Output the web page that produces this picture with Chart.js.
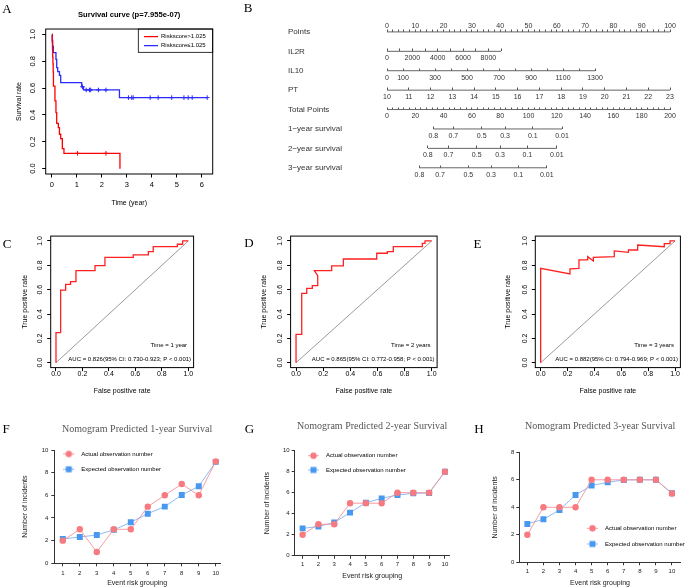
<!DOCTYPE html>
<html><head><meta charset="utf-8">
<script src="https://cdn.jsdelivr.net/npm/chart.js@4.4.1/dist/chart.umd.min.js"></script>
<style>
html,body{margin:0;padding:0;background:#fff;}
#wrap{position:relative;width:685px;height:588px;overflow:hidden;background:#fff;}
canvas{position:absolute;}
.lt{position:absolute;font-family:'Liberation Serif','Times New Roman',serif;font-size:13px;line-height:13px;color:#000;transform:translate(-50%,-50%);z-index:5;}
</style></head><body><div id="wrap"></div>
<script>
// ---------------- DATA ----------------
const seq = (a, b, s) => { const r = []; for (let v = a; v <= b + 1e-9; v += s) r.push(Math.round(v * 1000) / 1000); return r; };

// Panel A: Kaplan-Meier
const KM_TITLE = 'Survival curve (p=7.955e-07)';
const KM_GROUPS = ['Riskscore>1.025', 'Riskscore\u22641.025'];
const KM_COLORS = ['#ff0000', '#2a2aff'];
const RED_T = [0, 0.01, 0.02, 0.03, 0.04, 0.05, 0.06, 0.12, 0.16, 0.19, 0.255, 0.3, 0.35, 0.415, 0.48, 2.72];
const RED_S = [1, 0.94, 0.89, 0.83, 0.78, 0.72, 0.615, 0.504, 0.417, 0.337, 0.305, 0.256, 0.223, 0.149, 0.114, 0];
const RED_CENSOR_T = [1.02, 2.16];
const BLUE_T = [0, 0.015, 0.03, 0.055, 0.16, 0.19, 0.23, 0.3, 0.35, 1.19, 1.26, 2.7, 6.21];
const BLUE_S = [1, 0.955, 0.91, 0.864, 0.814, 0.752, 0.722, 0.695, 0.64, 0.61, 0.586, 0.529, 0.529];
const BLUE_CENSOR_T = [1.22, 1.37, 1.5, 1.55, 1.86, 2.16, 3.06, 3.19, 3.25, 3.93, 4.25, 4.79, 5.28, 5.45, 5.61, 6.21];
const KM_XTICKS = [0, 1, 2, 3, 4, 5, 6];
const PROB_TICKS = [0, 0.2, 0.4, 0.6, 0.8, 1];

// Panel B: nomogram
const NOMO_ROWS = ['Points', 'IL2R', 'IL10', 'PT', 'Total Points', '1\u2212year survival', '2\u2212year survival', '3\u2212year survival'];
const POINT_TICKS = seq(0, 100, 2);
const POINT_LABELS = seq(0, 100, 10);
const IL2R_TICKS = seq(0, 9000, 1000);
const IL2R_LABELS = [0, 2000, 4000, 6000, 8000];
const IL2R_POINTS_AT_MAX = 40.3;
const IL10_TICKS = seq(0, 1300, 100);
const IL10_LABELS = [0, 100, 300, 500, 700, 900, 1100, 1300];
const IL10_POINTS_AT_MAX = 73.5;
const PT_TICKS = seq(10, 23, 1);
const TOTAL_TICKS = seq(0, 200, 4);
const TOTAL_LABELS = seq(0, 200, 20);
const SURV_LABELS = ['0.8', '0.7', '0.5', '0.3', '0.1', '0.01'];
const SURV1_TOTAL = [32.7, 46.9, 66.9, 83.4, 103.0, 123.7];
const SURV2_TOTAL = [28.8, 43.4, 63.4, 79.9, 99.2, 120.0];
const SURV3_TOTAL = [22.9, 37.5, 57.5, 73.5, 92.8, 112.9];

// Panels C, D, E: time-dependent ROC
const C_FPR = [0, 0, 0.035, 0.035, 0.073, 0.073, 0.11, 0.11, 0.151, 0.151, 0.295, 0.295, 0.37, 0.37, 0.584, 0.584, 0.698, 0.698, 0.735, 0.735, 0.917, 0.917, 0.957, 0.957, 1];
const C_TPR = [0, 0.247, 0.247, 0.597, 0.597, 0.644, 0.644, 0.666, 0.666, 0.756, 0.756, 0.797, 0.797, 0.866, 0.866, 0.885, 0.885, 0.912, 0.912, 0.953, 0.953, 0.973, 0.973, 1, 1];
const D_FPR = [0, 0, 0.042, 0.042, 0.079, 0.079, 0.12, 0.12, 0.16, 0.16, 0.135, 0.263, 0.263, 0.349, 0.349, 0.595, 0.595, 0.673, 0.673, 0.717, 0.717, 0.931, 0.931, 0.951, 0.951, 1];
const D_TPR = [0, 0.233, 0.233, 0.57, 0.57, 0.611, 0.611, 0.633, 0.633, 0.715, 0.756, 0.756, 0.795, 0.795, 0.852, 0.852, 0.899, 0.899, 0.912, 0.912, 0.953, 0.953, 0.981, 0.981, 1, 1];
const E_FPR = [0, 0, 0.218, 0.218, 0.285, 0.285, 0.35, 0.35, 0.392, 0.392, 0.548, 0.548, 0.653, 0.653, 0.722, 0.722, 0.92, 0.92, 0.963, 0.963, 1];
const E_TPR = [0, 0.775, 0.729, 0.77, 0.775, 0.844, 0.844, 0.871, 0.836, 0.866, 0.871, 0.918, 0.907, 0.926, 0.926, 0.967, 0.953, 0.978, 0.978, 1, 1];
const DIAG = [0, 1];
const ROC_TIME = ['Time = 1 year', 'Time = 2 years', 'Time = 3 years'];
const ROC_AUC = ['AUC = 0.826(95% CI: 0.730-0.923; P < 0.001)', 'AUC = 0.865(95% CI: 0.772-0.958; P < 0.001)', 'AUC = 0.882(95% CI: 0.794-0.969; P < 0.001)'];

// Panels F, G, H: calibration
const CAL_TITLES = ['Nomogram Predicted 1-year Survival', 'Nomogram Predicted 2-year Survival', 'Nomogram Predicted 3-year Survival'];
const CAL_LEGEND = ['Actual observation number', 'Expected observation number'];
const RISK_GROUPS = [1, 2, 3, 4, 5, 6, 7, 8, 9, 10];
const F_ACTUAL = [2, 3, 1, 3, 3, 5, 6, 7, 6, 9];
const F_EXPECTED = [2.14, 2.32, 2.5, 2.95, 3.62, 4.38, 5.0, 6.03, 6.8, 8.95];
const G_ACTUAL = [2, 3, 3, 5, 5, 5, 6, 6, 6, 8];
const G_EXPECTED = [2.6, 2.78, 3.17, 4.1, 5.05, 5.46, 5.78, 5.94, 5.97, 8.0];
const H_ACTUAL = [2, 4, 4, 4, 6, 6, 6, 6, 6, 5];
const H_EXPECTED = [2.79, 3.13, 3.8, 4.9, 5.58, 5.82, 5.99, 6.0, 6.0, 5.02];
const FG_YTICKS = [0, 2, 4, 6, 8, 10];
const H_YTICKS = [0, 2, 4, 6, 8];

// ---------------- SETUP ----------------
Chart.defaults.font.family = "'Liberation Sans', Arial, Helvetica, sans-serif";
Chart.defaults.color = '#000';
Chart.defaults.animation = false;
Chart.defaults.responsive = false;
Chart.defaults.events = [];
Chart.defaults.plugins.legend.display = false;
Chart.defaults.plugins.tooltip.enabled = false;

const wrap = document.getElementById('wrap');
function makeCanvas(x, y, w, h) {
  const c = document.createElement('canvas');
  c.width = w; c.height = h;
  c.style.left = x + 'px'; c.style.top = y + 'px';
  c.style.width = w + 'px'; c.style.height = h + 'px';
  wrap.appendChild(c);
  return c;
}
function letter(t, x, y) {
  const d = document.createElement('div');
  d.className = 'lt'; d.textContent = t;
  d.style.left = x + 'px'; d.style.top = y + 'px';
  wrap.appendChild(d);
}
function kmAt(T, S, t) { let s = S[0]; for (let i = 0; i < T.length; i++) if (T[i] <= t) s = S[i]; return s; }
const setTicks = arr => s => { s.ticks = arr.map(v => ({ value: v })); };

// plugins
const framePlugin = {
  id: 'frame',
  afterDatasetsDraw(chart, args, opts) {
    if (!opts || !opts.on) return;
    const { ctx, chartArea: a } = chart;
    ctx.save(); ctx.strokeStyle = '#000'; ctx.lineWidth = 1;
    ctx.strokeRect(a.left, a.top, a.right - a.left, a.bottom - a.top);
    ctx.restore();
  }
};
const rocTextPlugin = {
  id: 'rocText',
  afterDatasetsDraw(chart, args, opts) {
    const { ctx, chartArea: a, scales } = chart;
    ctx.save();
    ctx.fillStyle = '#000';
    ctx.font = "6px 'Liberation Sans', Arial, sans-serif";
    ctx.textAlign = 'right'; ctx.textBaseline = 'middle';
    ctx.fillText(opts.time, a.right - 6.5, scales.y.getPixelForValue(0.14));
    ctx.fillText(opts.auc, a.right - 2.5, scales.y.getPixelForValue(0.028));
    ctx.restore();
  }
};
const legendPlacePlugin = {
  id: 'legendPlace',
  afterLayout(chart, args, opts) {
    const lg = chart.legend;
    if (!lg || !opts || opts.dx === undefined) return;
    const ca = chart.chartArea;
    const lo = lg.options.labels;
    const pad = lo.padding, fs = lo.font.size;
    const x0 = (opts.fromRight ? ca.right : ca.left) + opts.dx;
    const y0 = ca.top + opts.dy;
    lg.left = x0 - pad; lg.top = y0 - fs / 2 - pad;
    lg.right = lg.left + lg.width; lg.bottom = lg.top + lg.height;
  }
};
const legendBorderPlugin = {
  id: 'legendBorder',
  afterDraw(chart, args, opts) {
    if (!opts || opts.left === undefined) return;
    const ca = chart.chartArea, ctx = chart.ctx;
    ctx.save(); ctx.strokeStyle = '#000'; ctx.lineWidth = 0.8;
    const l = ca.right + opts.left;
    ctx.strokeRect(l, ca.top, ca.right - l, opts.bottom);
    ctx.restore();
  }
};

function rX(o) {
  return {
    type: 'linear', position: 'bottom', min: o.min, max: o.max,
    afterBuildTicks: setTicks(o.ticks),
    afterFit: s => { s.height = o.height; },
    ticks: { autoSkip: false, maxRotation: 0, minRotation: 0, padding: o.pad, font: { size: o.fs }, color: '#000', callback: o.fmt },
    grid: { drawOnChartArea: false, drawTicks: true, tickLength: 3.5, color: '#000' },
    border: { display: false },
    title: { display: true, text: o.title, font: { size: 7 }, color: '#000', padding: { top: 0, bottom: o.tpad } }
  };
}
function rY(o) {
  return {
    type: 'linear', position: 'left', min: o.min, max: o.max,
    afterBuildTicks: setTicks(o.ticks),
    afterFit: s => { s.width = o.width; },
    ticks: { autoSkip: false, minRotation: 90, maxRotation: 90, crossAlign: 'center', padding: o.pad, font: { size: o.fs }, color: '#000', callback: v => v.toFixed(1) },
    grid: { drawOnChartArea: false, drawTicks: true, tickLength: 3.5, color: '#000' },
    border: { display: false },
    title: { display: true, text: o.title, font: { size: 7 }, color: '#000', padding: { top: o.tpad, bottom: 0 } }
  };
}

// ---------------- PANEL A ----------------
new Chart(makeCanvas(0, 0, 230, 210), {
  type: 'scatter',
  data: { datasets: [
    { data: RED_T.map((t, i) => ({ x: t, y: RED_S[i] })), showLine: true, stepped: true, borderColor: KM_COLORS[0], borderWidth: 1.3, pointRadius: 0 },
    { data: BLUE_T.map((t, i) => ({ x: t, y: BLUE_S[i] })), showLine: true, stepped: true, borderColor: KM_COLORS[1], borderWidth: 1.3, pointRadius: 0 },
    { data: RED_CENSOR_T.map(t => ({ x: t, y: kmAt(RED_T, RED_S, t) })), showLine: false, pointStyle: 'cross', pointRadius: 2.3, borderColor: KM_COLORS[0], pointBorderWidth: 1 },
    { data: BLUE_CENSOR_T.map(t => ({ x: t, y: kmAt(BLUE_T, BLUE_S, t) })), showLine: false, pointStyle: 'cross', pointRadius: 2.3, borderColor: KM_COLORS[1], pointBorderWidth: 1 }
  ] },
  options: {
    layout: { padding: { left: 0, right: 17.3, top: 0, bottom: 0 } },
    scales: {
      x: rX({ min: -0.25, max: 6.43, ticks: KM_XTICKS, height: 36, pad: 3, fs: 7.5, title: 'Time (year)', tpad: 2.8, fmt: v => String(v) }),
      y: rY({ min: -0.04, max: 1.04, ticks: PROB_TICKS, width: 45.7, pad: 3.7, fs: 7.5, title: 'Survival rate', tpad: 14.8 })
    },
    plugins: {
      title: { display: true, text: KM_TITLE, font: { size: 7.6, weight: 'bold' }, color: '#000', padding: { top: 10.4, bottom: 9.5 }, fullSize: false },
      legend: { display: true, position: 'chartArea', align: 'start', fullSize: false,
        labels: { usePointStyle: true, pointStyleWidth: 14, padding: 3, font: { size: 6 }, color: '#000',
          generateLabels: () => KM_GROUPS.map((text, i) => ({ text, fillStyle: KM_COLORS[i], strokeStyle: KM_COLORS[i], lineWidth: 1.3, pointStyle: 'line', hidden: false, datasetIndex: i })) } },
      legendPlace: { dx: -68.7, dy: 7.7, fromRight: true },
      legendBorder: { left: -74.4, bottom: 23.3 },
      frame: { on: true }
    }
  },
  plugins: [framePlugin, legendPlacePlugin, legendBorderPlugin]
});

// ---------------- PANEL B ----------------
function nomoAxis(row, min, max, ticks, labelFn, above) {
  return {
    type: 'linear', axis: 'x', position: { y: row }, min, max,
    afterBuildTicks: setTicks(ticks),
    ticks: { autoSkip: false, maxRotation: 0, minRotation: 0, font: { size: 7 }, color: '#333', padding: above ? -7.5 : 5.3, callback: labelFn },
    grid: { display: true, drawOnChartArea: false, drawTicks: true, tickLength: -2.5, color: '#555', lineWidth: 1 },
    border: { display: false }
  };
}
function nomoLine(axisId, row, a, b) {
  return { data: [{ x: a, y: row }, { x: b, y: row }], xAxisID: axisId, yAxisID: 'y', showLine: true, borderColor: '#666', borderWidth: 1, pointRadius: 0 };
}
const last = a => a[a.length - 1];
const inList = list => v => (list.includes(v) ? String(v) : '');
const survLabel = (v, i) => SURV_LABELS[i];
new Chart(makeCanvas(288, 0, 397, 195), {
  type: 'scatter',
  data: { datasets: [
    nomoLine('x', 1, POINT_TICKS[0], last(POINT_TICKS)),
    nomoLine('xIL2R', 2, IL2R_TICKS[0], last(IL2R_TICKS)),
    nomoLine('xIL10', 3, IL10_TICKS[0], last(IL10_TICKS)),
    nomoLine('xPT', 4, PT_TICKS[0], last(PT_TICKS)),
    nomoLine('xTot', 5, TOTAL_TICKS[0], last(TOTAL_TICKS)),
    nomoLine('xS1', 6, SURV1_TOTAL[0], last(SURV1_TOTAL)),
    nomoLine('xS2', 7, SURV2_TOTAL[0], last(SURV2_TOTAL)),
    nomoLine('xS3', 8, SURV3_TOTAL[0], last(SURV3_TOTAL))
  ] },
  options: {
    layout: { padding: { left: 0, right: 15, top: 12.5, bottom: 2.5 } },
    scales: {
      y: { type: 'linear', position: 'left', min: 0, max: 9, reverse: true,
        afterBuildTicks: setTicks(NOMO_ROWS.map((_, i) => i + 1)),
        afterFit: s => { s.width = 99; },
        ticks: { autoSkip: false, crossAlign: 'far', font: { size: 8 }, color: '#333', callback: (v, i) => NOMO_ROWS[i] },
        grid: { display: false }, border: { display: false } },
      x: nomoAxis(1, 0, 100, POINT_TICKS, inList(POINT_LABELS), true),
      xIL2R: nomoAxis(2, 0, 9000 * 100 / IL2R_POINTS_AT_MAX, IL2R_TICKS, inList(IL2R_LABELS), false),
      xIL10: nomoAxis(3, 0, 1300 * 100 / IL10_POINTS_AT_MAX, IL10_TICKS, inList(IL10_LABELS), false),
      xPT: nomoAxis(4, PT_TICKS[0], last(PT_TICKS), PT_TICKS, v => String(v), false),
      xTot: nomoAxis(5, 0, 200, TOTAL_TICKS, inList(TOTAL_LABELS), false),
      xS1: nomoAxis(6, 0, 200, SURV1_TOTAL, survLabel, false),
      xS2: nomoAxis(7, 0, 200, SURV2_TOTAL, survLabel, false),
      xS3: nomoAxis(8, 0, 200, SURV3_TOTAL, survLabel, false)
    }
  }
});

// ---------------- PANELS C, D, E ----------------
function rocChart(rect, fpr, tpr, k, lay) {
  return new Chart(makeCanvas(...rect), {
    type: 'scatter',
    data: { datasets: [
      { data: fpr.map((x, i) => ({ x, y: tpr[i] })), showLine: true, borderColor: '#ff2020', borderWidth: 1.3, pointRadius: 0 },
      { data: DIAG.map(v => ({ x: v, y: v })), showLine: true, borderColor: '#808080', borderWidth: 0.8, pointRadius: 0 }
    ] },
    options: {
      layout: { padding: { left: 0, right: lay.padR, top: 24.1, bottom: 0 } },
      scales: {
        x: rX({ min: -0.04, max: 1.04, ticks: PROB_TICKS, height: 29.4, pad: -1.5, fs: 7, title: 'False positive rate', tpad: 1.8, fmt: v => v.toFixed(1) }),
        y: rY({ min: -0.04, max: 1.04, ticks: PROB_TICKS, width: lay.yw, pad: lay.ypad, fs: 7, title: 'True positive rate', tpad: lay.ytpad })
      },
      plugins: { frame: { on: true }, rocText: { time: ROC_TIME[k], auc: ROC_AUC[k] } }
    },
    plugins: [framePlugin, rocTextPlugin]
  });
}
rocChart([0, 212, 230, 185], C_FPR, C_TPR, 0, { padR: 36.4, yw: 50.7, ypad: 2.3, ytpad: 20.8 });
rocChart([240, 212, 230, 185], D_FPR, D_TPR, 1, { padR: 32.9, yw: 50.6, ypad: 2.2, ytpad: 20.1 });
rocChart([484, 212, 201, 185], E_FPR, E_TPR, 2, { padR: 4.6, yw: 51.3, ypad: 1.9, ytpad: 20.1 });

// ---------------- PANELS F, G, H ----------------
const RED_MARK = 'rgb(246,122,128)', RED_LINE = 'rgba(246,140,146,0.85)';
const BLUE_MARK = 'rgb(72,152,240)', BLUE_LINE = 'rgba(120,178,242,0.85)';
function legendIcon(kind, mark, line) {
  const c = document.createElement('canvas'); c.width = 15; c.height = 9;
  const g = c.getContext('2d');
  g.strokeStyle = line; g.lineWidth = 1; g.beginPath(); g.moveTo(0, 4.5); g.lineTo(11, 4.5); g.stroke();
  g.fillStyle = mark;
  if (kind === 'circle') { g.beginPath(); g.arc(5.5, 4.5, 3.2, 0, Math.PI * 2); g.fill(); }
  else { g.fillRect(2.5, 1.5, 6, 6); }
  return c;
}
const CAL_ICONS = [legendIcon('circle', RED_MARK, RED_LINE), legendIcon('rect', BLUE_MARK, BLUE_LINE)];
function calChart(rect, k, actual, expected, L) {
  return new Chart(makeCanvas(...rect), {
    type: 'scatter',
    data: { datasets: [
      { label: CAL_LEGEND[0], data: RISK_GROUPS.map((g, i) => ({ x: g, y: actual[i] })), showLine: true, borderColor: RED_LINE, borderWidth: 1,
        pointStyle: 'circle', pointRadius: 3.2, pointBackgroundColor: RED_MARK, pointBorderColor: RED_MARK, pointBorderWidth: 0 },
      { label: CAL_LEGEND[1], data: RISK_GROUPS.map((g, i) => ({ x: g, y: expected[i] })), showLine: true, borderColor: BLUE_LINE, borderWidth: 1,
        pointStyle: 'rect', pointRadius: 4.2, pointBackgroundColor: BLUE_MARK, pointBorderColor: BLUE_MARK, pointBorderWidth: 0 }
    ] },
    options: {
      layout: { padding: { left: 0, right: L.padR, top: 0, bottom: 0 } },
      scales: {
        x: { type: 'linear', position: 'bottom', min: 0.5, max: L.xmax,
          afterBuildTicks: setTicks(RISK_GROUPS), afterFit: s => { s.height = L.xh; },
          ticks: { autoSkip: false, maxRotation: 0, minRotation: 0, padding: L.xpad, font: { size: 6 }, color: '#222' },
          grid: { drawOnChartArea: false, drawTicks: true, tickLength: 3, color: '#333' },
          border: { display: true, color: '#333', width: 1 },
          title: { display: true, text: 'Event risk grouping', font: { size: 7 }, color: '#222', padding: { top: 0, bottom: L.xtpad } } },
        y: { type: 'linear', position: 'left', min: 0, max: L.ymax,
          afterBuildTicks: setTicks(L.yticks), afterFit: s => { s.width = L.yw; },
          ticks: { autoSkip: false, padding: L.ypad, font: { size: 6 }, color: '#222' },
          grid: { drawOnChartArea: false, drawTicks: true, tickLength: 3, color: '#333' },
          border: { display: true, color: '#333', width: 1 },
          title: { display: true, text: 'Number of incidents', font: { size: 7 }, color: '#222', padding: { top: L.ytpad, bottom: 0 } } }
      },
      plugins: {
        title: { display: true, text: CAL_TITLES[k], font: { family: "'Liberation Serif', 'Times New Roman', serif", size: 10, weight: 'normal' }, color: '#555', padding: { top: L.tpt, bottom: L.tpb }, fullSize: false },
        legend: { display: true, position: 'chartArea', align: 'start', fullSize: false,
          labels: { usePointStyle: true, pointStyleWidth: 15, padding: L.lpad, font: { size: 6 }, color: '#222',
            generateLabels: () => CAL_LEGEND.map((text, i) => ({ text, pointStyle: CAL_ICONS[i], fillStyle: 'rgba(0,0,0,0)', strokeStyle: 'rgba(0,0,0,0)', lineWidth: 0, hidden: false, datasetIndex: i })) } },
        legendPlace: { dx: L.ldx, dy: L.ldy }
      }
    },
    plugins: [legendPlacePlugin]
  });
}
calChart([0, 400, 232, 188], 0, F_ACTUAL, F_EXPECTED, { padR: 12, xmax: 10.25, xh: 24.7, xpad: 3.4, xtpad: 1.1, ymax: 10, yticks: FG_YTICKS, yw: 54.3, ypad: 3, ytpad: 20.8, tpt: 23, tpb: 15, lpad: 9.3, ldx: 9, ldy: 4 });
calChart([240, 400, 220, 188], 1, G_ACTUAL, G_EXPECTED, { padR: 10.3, xmax: 10.3, xh: 32.3, xpad: 2, xtpad: 7.8, ymax: 10, yticks: FG_YTICKS, yw: 54.7, ypad: 2, ytpad: 23.1, tpt: 20.7, tpb: 18, lpad: 8.3, ldx: 13.3, ldy: 5 });
calChart([470, 400, 215, 188], 2, H_ACTUAL, H_EXPECTED, { padR: 0, xmax: 10.55, xh: 25.7, xpad: 2.8, xtpad: 0.5, ymax: 8, yticks: H_YTICKS, yw: 49.3, ypad: 2, ytpad: 20.8, tpt: 20.7, tpb: 19.6, lpad: 9.7, ldx: 67.7, ldy: 76 });

// panel letters
letter('A', 7, 8); letter('B', 248, 7); letter('C', 7, 243); letter('D', 249, 242); letter('E', 477.5, 242.7);
letter('F', 6, 428); letter('G', 249.5, 428); letter('H', 479, 428);
</script></body></html>
